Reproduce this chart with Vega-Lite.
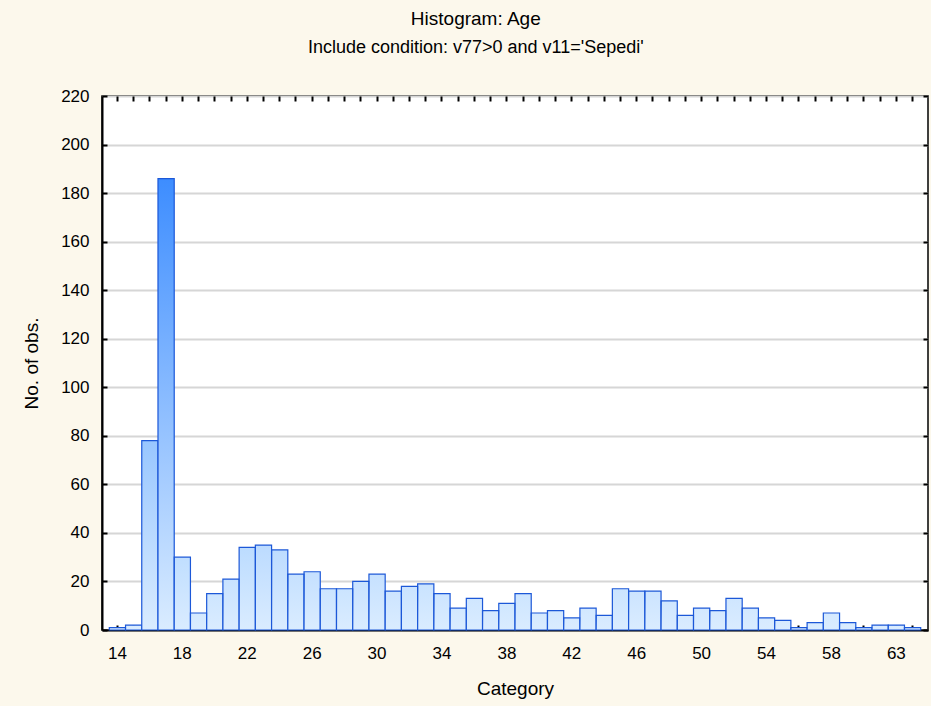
{
  "$schema": "https://vega.github.io/schema/vega-lite/v6.json",
  "width": 826,
  "height": 534,
  "autosize": {"type": "none"},
  "padding": {"left": 102, "top": 96, "right": 3, "bottom": 76},
  "background": "#fcf8ec",
  "title": {
    "text": "Histogram: Age",
    "subtitle": "Include condition: v77>0 and v11='Sepedi'",
    "font": "Liberation Sans",
    "fontSize": 19,
    "fontWeight": "normal",
    "color": "black",
    "subtitleFont": "Liberation Sans",
    "subtitleFontSize": 18,
    "subtitleColor": "black",
    "subtitlePadding": 10,
    "offset": 30,
    "anchor": "middle",
    "frame": "bounds"
  },
  "config": {
    "view": {"stroke": "black", "strokeWidth": 1.5, "fill": "white"},
    "axis": {
      "labelFont": "Liberation Sans",
      "labelFontSize": 17,
      "labelColor": "black",
      "titleFont": "Liberation Sans",
      "titleFontSize": 19,
      "titleFontWeight": "normal",
      "titleColor": "black",
      "tickColor": "black",
      "tickWidth": 2,
      "domainColor": "black",
      "domainWidth": 2
    }
  },
  "data": {
    "values": [
      {"age": 14, "count": 1}, {"age": 15, "count": 2}, {"age": 16, "count": 78}, {"age": 17, "count": 186},
      {"age": 18, "count": 30}, {"age": 19, "count": 7}, {"age": 20, "count": 15}, {"age": 21, "count": 21},
      {"age": 22, "count": 34}, {"age": 23, "count": 35}, {"age": 24, "count": 33}, {"age": 25, "count": 23},
      {"age": 26, "count": 24}, {"age": 27, "count": 17}, {"age": 28, "count": 17}, {"age": 29, "count": 20},
      {"age": 30, "count": 23}, {"age": 31, "count": 16}, {"age": 32, "count": 18}, {"age": 33, "count": 19},
      {"age": 34, "count": 15}, {"age": 35, "count": 9}, {"age": 36, "count": 13}, {"age": 37, "count": 8},
      {"age": 38, "count": 11}, {"age": 39, "count": 15}, {"age": 40, "count": 7}, {"age": 41, "count": 8},
      {"age": 42, "count": 5}, {"age": 43, "count": 9}, {"age": 44, "count": 6}, {"age": 45, "count": 17},
      {"age": 46, "count": 16}, {"age": 47, "count": 16}, {"age": 48, "count": 12}, {"age": 49, "count": 6},
      {"age": 50, "count": 9}, {"age": 51, "count": 8}, {"age": 52, "count": 13}, {"age": 53, "count": 9},
      {"age": 54, "count": 5}, {"age": 55, "count": 4}, {"age": 56, "count": 1}, {"age": 57, "count": 3},
      {"age": 58, "count": 7}, {"age": 59, "count": 3}, {"age": 60, "count": 1}, {"age": 61, "count": 2},
      {"age": 62, "count": 2}, {"age": 63, "count": 1}
    ]
  },
  "layer": [
    {
      "mark": {"type": "bar", "strokeWidth": 0},
      "encoding": {
        "x": {
          "field": "age", "type": "ordinal",
          "scale": {"paddingInner": 0, "paddingOuter": 0.45},
          "axis": {
            "title": "Category",
            "labelAngle": 0,
            "tickSize": -5,
            "labelPadding": 20,
            "titlePadding": 18,
            "labelExpr": "(datum.value - 14) % 4 == 0 ? (datum.value == 62 ? '63' : datum.label) : ''"
          }
        },
        "y": {
          "field": "count", "type": "quantitative",
          "scale": {"domain": [0, 220], "nice": false},
          "axis": {
            "title": "No. of obs.",
            "values": [0, 20, 40, 60, 80, 100, 120, 140, 160, 180, 200, 220],
            "tickSize": -5,
            "labelPadding": 18,
            "titlePadding": 19,
            "grid": true,
            "gridColor": "#d6d6d6",
            "gridWidth": 2
          }
        },
        "color": {
          "field": "count", "type": "quantitative",
          "scale": {"domain": [0, 220], "range": ["#daecff", "#0a7aff"]},
          "legend": null
        }
      }
    },
    {
      "mark": {
        "type": "bar",
        "stroke": "#1c58d8",
        "strokeWidth": 1.2,
        "fill": {
          "gradient": "linear",
          "x1": 0, "y1": 0, "x2": 0, "y2": 1,
          "stops": [
            {"offset": 0, "color": "rgba(218,236,255,0)"},
            {"offset": 1, "color": "rgba(218,236,255,1)"}
          ]
        }
      },
      "encoding": {
        "x": {
          "field": "age", "type": "ordinal",
          "axis": {"orient": "top", "labels": false, "title": null, "tickSize": -5, "domain": false}
        },
        "y": {
          "field": "count", "type": "quantitative",
          "axis": {
            "orient": "right", "labels": false, "title": null, "tickSize": -5, "domain": false, "grid": false,
            "values": [0, 20, 40, 60, 80, 100, 120, 140, 160, 180, 200, 220]
          }
        }
      }
    }
  ],
  "resolve": {"axis": {"x": "independent", "y": "independent"}}
}
